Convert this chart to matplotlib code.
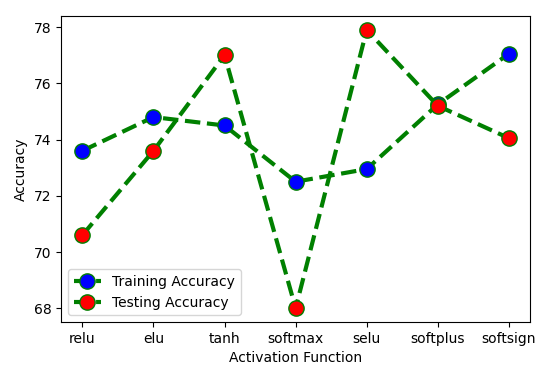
import numpy as np
from matplotlib import pyplot as plt

activations = ["relu", "elu", "tanh", "softmax", "selu", "softplus", "softsign"]
train_acc = [73.6, 74.8, 74.5, 72.5, 72.95, 75.25, 77.05]
test_acc = [70.6, 73.6, 77.0, 68.0, 77.9, 75.2, 74.05]

fig = plt.figure(figsize=(5.5, 3.72), dpi=100)
ax = fig.add_axes([0.111, 0.134, 0.853, 0.823])

ax.plot(activations, train_acc, color='g', linestyle='--', linewidth=3,
        marker='o', markersize=11, markerfacecolor='b', markeredgecolor='g',
        label="Training Accuracy")
ax.plot(activations, test_acc, color='g', linestyle='--', linewidth=3,
        marker='o', markersize=11, markerfacecolor='r', markeredgecolor='g',
        label="Testing Accuracy")

ax.set_xlabel("Activation Function")
ax.set_ylabel("Accuracy")
ax.legend(loc="lower left")

fig.savefig("out.png", dpi=100)
